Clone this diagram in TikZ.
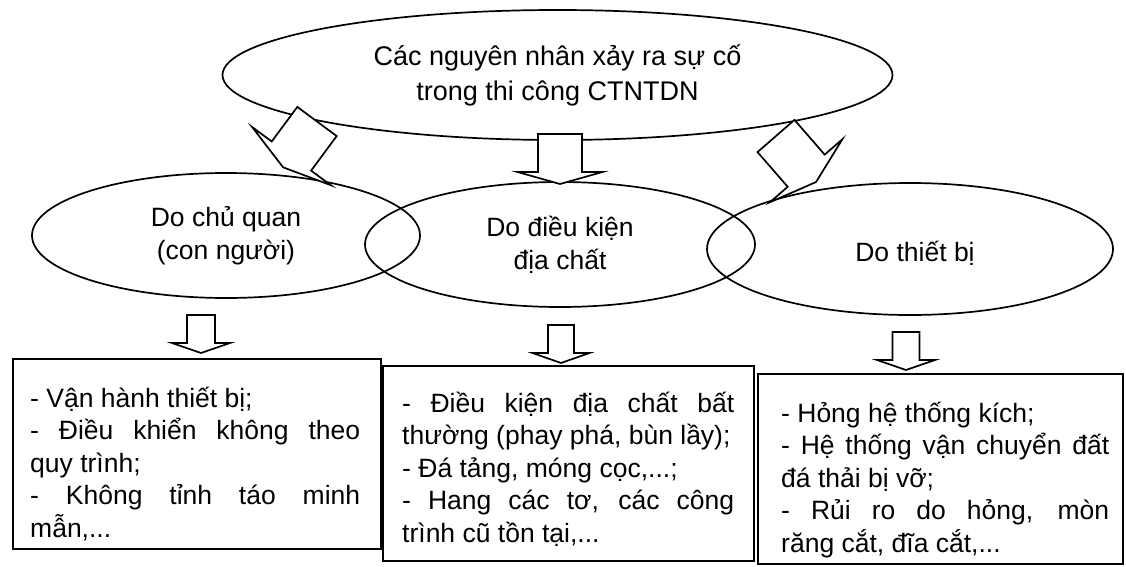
\documentclass[tikz,border=0pt]{standalone}
\usepackage{fontspec}
\setmainfont{Liberation Sans}
\usetikzlibrary{shapes.geometric}
\setlength{\parindent}{0pt}
\setlength{\parskip}{0pt}
\tikzset{
  ln/.style={line width=1.7pt, draw=black},
  ell/.style={ln, ellipse, inner sep=0pt, align=center, font=\fontsize{26.5}{33}\selectfont},
  frame/.style={ln, rectangle, inner sep=0pt, anchor=north west},
  boxtext/.style={inner sep=0pt, align=justify, anchor=north west, font=\fontsize{26.5}{32.5}\selectfont},
  barrow/.style={ln, fill=white, line join=miter},
  pics/blockarrow/.style n args={4}{code={
    \draw[barrow] ({-#1/2},0) -- ({-#1/2},#2) -- ({-#3/2},#2) -- (0,{#2+#4})
      -- ({#3/2},#2) -- ({#1/2},#2) -- ({#1/2},0) -- cycle;}}
}
\newcommand\firstline{\rule{0pt}{30pt}}
\begin{document}
\begin{tikzpicture}[x=1pt,y=-1pt]
\useasboundingbox[fill=white] (0,0) rectangle (1126,567);

% ellipses
\node[ell, minimum width=670pt, minimum height=130pt, font=\fontsize{27}{35}\selectfont]
  (top) at (557.5,75) {Các nguyên nhân xảy ra sự cố\\trong thi công CTNTDN};
\node[ell, minimum width=388pt, minimum height=125pt] (cq) at (226,235.5) {Do chủ quan\\(con người)};
\node[ell, minimum width=390pt, minimum height=125pt] (dc) at (560,244.5) {Do điều kiện\\địa chất};
\node[ell, minimum width=406pt, minimum height=132pt] (tb) at (910,249) {};
\node[font=\fontsize{26.5}{33}\selectfont, inner sep=0pt] (tbt) at (915,253) {Do thiết bị};

% block arrows from the top ellipse
\pic[rotate=-36.5] at (317,121.5) {blockarrow={49}{43}{98}{14}};
\pic at (560,134) {blockarrow={44}{38}{85}{12}};
\pic[rotate=41] at (776,136) {blockarrow={49}{46}{96}{15}};

% block arrows to the boxes
\pic at (201,315) {blockarrow={28}{28}{58}{10}};
\pic at (561,325) {blockarrow={26}{28}{57}{10}};
\pic at (906,332) {blockarrow={27}{28}{58}{10}};

% boxes
\node[frame, minimum width=368pt, minimum height=190pt] (b1) at (12,358) {};
\node[frame, minimum width=371pt, minimum height=195pt] (b2) at (382,365) {};
\node[frame, minimum width=365pt, minimum height=190pt] (b3) at (757,373) {};

\node[boxtext, text width=330pt] (t1) at (30,377)
  {\firstline- Vận hành thiết bị;\par
   - Điều khiển không theo\linebreak quy trình;\par
   - Không tỉnh táo minh\linebreak mẫn,...};
\node[boxtext, text width=332pt] (t2) at (402,382)
  {\firstline- Điều kiện địa chất bất\linebreak thường (phay phá, bùn lầy);\par
   - Đá tảng, móng cọc,...;\par
   - Hang các tơ, các công\linebreak trình cũ tồn tại,...};
\node[boxtext, text width=328pt] (t3) at (781,392)
  {\firstline- Hỏng hệ thống kích;\par
   - Hệ thống vận chuyển đất\linebreak đá thải bị vỡ;\par
   - Rủi ro do hỏng, mòn\linebreak răng cắt, đĩa cắt,...};
\end{tikzpicture}
\end{document}
